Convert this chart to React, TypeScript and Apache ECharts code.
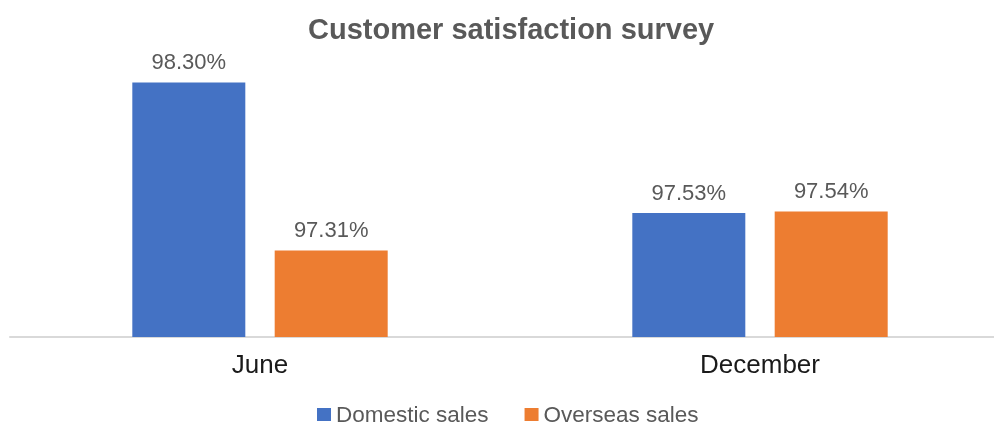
import React, { useEffect, useRef } from "react";
import * as echarts from "echarts";

const categories = ["June", "December"];
const domesticSales = [98.3, 97.53];
const overseasSales = [97.31, 97.54];
const seriesNames = ["Domestic sales", "Overseas sales"];

export default function App() {
  const ref = useRef<HTMLDivElement>(null);
  useEffect(() => {
    if (!ref.current) return;
    const chart = echarts.init(ref.current, null, { renderer: "svg" });
    const labelCfg = {
      show: true,
      position: "top",
      distance: 10,
      color: "#595959",
      fontFamily: "Liberation Sans",
      fontSize: 22,
      formatter: (p: any) => p.value.toFixed(2) + "%",
    };
    chart.setOption({
      animation: false,
      title: {
        text: "Customer satisfaction survey",
        left: 303,
        top: 9,
        textStyle: {
          fontFamily: "Liberation Sans",
          fontWeight: "bold",
          fontSize: 29,
          color: "#595959",
        },
      },
      legend: {
        left: 317,
        top: 403,
        padding: 0,
        itemWidth: 14,
        itemHeight: 13,
        itemGap: 36,
        icon: "rect",
        textStyle: {
          fontFamily: "Liberation Sans",
          fontSize: 22.5,
          lineHeight: 22,
          color: "#595959",
          padding: [0, 0, 0, 0],
        },
        data: seriesNames,
      },
      grid: { left: 10, right: 0, top: 48.5, bottom: 89 },
      xAxis: {
        type: "category",
        data: categories,
        axisLine: { lineStyle: { color: "#d9d9d9", width: 2 } },
        axisTick: { show: false },
        axisLabel: {
          margin: 14,
          fontFamily: "Liberation Sans",
          fontSize: 26,
          color: "#1a1a1a",
        },
      },
      yAxis: {
        type: "value",
        min: 96.8,
        max: 98.5,
        show: false,
        splitLine: { show: false },
      },
      series: [
        {
          name: seriesNames[0],
          type: "bar",
          data: domesticSales,
          barWidth: 113,
          barGap: "26%",
          itemStyle: { color: "#4472C4" },
          label: labelCfg,
        },
        {
          name: seriesNames[1],
          type: "bar",
          data: overseasSales,
          barWidth: 113,
          barGap: "26%",
          itemStyle: { color: "#ED7D31" },
          label: labelCfg,
        },
      ],
    });
    return () => chart.dispose();
  }, []);
  return (
    <div style={{ position: "fixed", left: 0, top: 0, width: 994, height: 426, overflow: "hidden" }}>
      <div ref={ref} style={{ width: 1010, height: 426 }} />
    </div>
  );
}
